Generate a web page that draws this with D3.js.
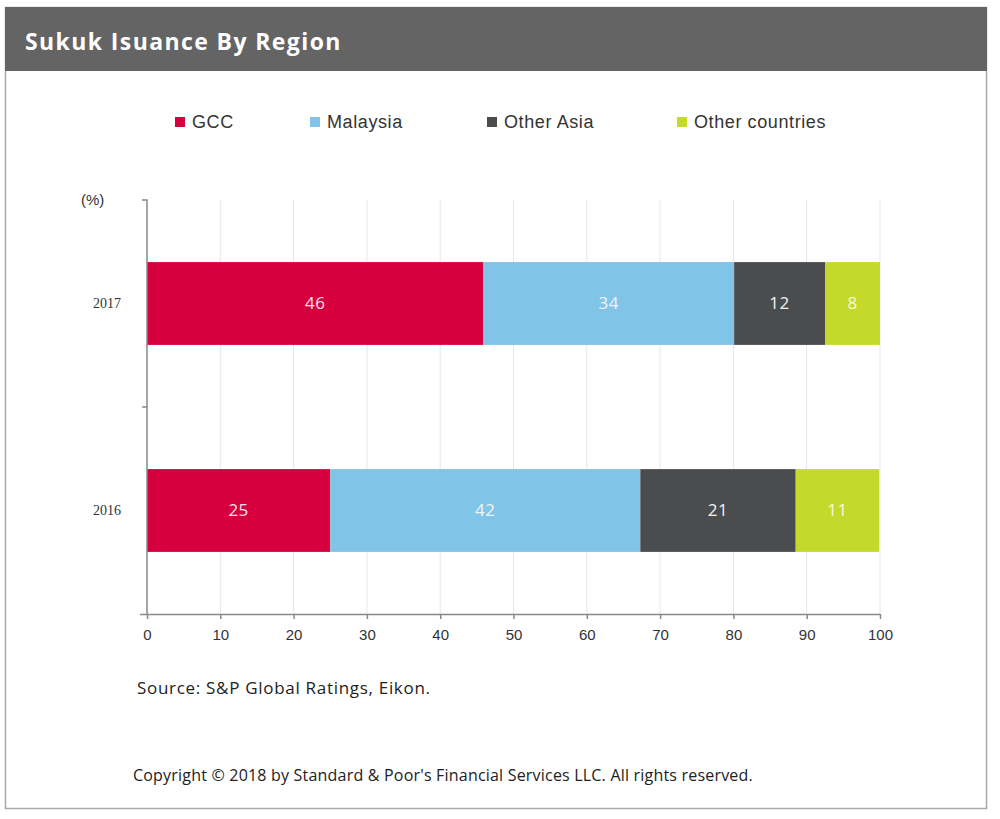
<!DOCTYPE html>
<html>
<head>
<meta charset="utf-8">
<script src="https://cdn.jsdelivr.net/npm/d3@7/dist/d3.min.js"></script>
<style>
  html, body { margin: 0; padding: 0; background: #fff; }
  svg { display: block; }
</style>
</head>
<body>
<svg id="chart" width="1000" height="819"></svg>
<script>
// ---- Data ----
const years = ["2017", "2016"];
const seriesNames = ["GCC", "Malaysia", "Other Asia", "Other countries"];
const gcc = [45.9, 25.0];
const malaysia = [34.2, 42.3];
const otherAsia = [12.4, 21.2];
const otherCountries = [7.5, 11.4];
const xTicks = [0, 10, 20, 30, 40, 50, 60, 70, 80, 90, 100];
const colors = ["#d7003f", "#80c4e7", "#4b4c4e", "#c5d92d"];
const labelColors = ["#f4e3ea", "#eef6fb", "#f2f2f2", "#f7f9d8"];

const seriesValues = [gcc, malaysia, otherAsia, otherCountries];
const rows = years.map((y, i) => {
  const r = { year: y };
  seriesNames.forEach((s, k) => r[s] = seriesValues[k][i]);
  return r;
});

const svg = d3.select("#chart");

// Outer frame
svg.append("rect").attr("x", 5.5).attr("y", 7.5).attr("width", 981).attr("height", 801)
  .attr("fill", "#fff").attr("stroke", "#a9a9a9").attr("stroke-width", 1.5);
// Title bar
svg.append("rect").attr("x", 5).attr("y", 7).attr("width", 982).attr("height", 64).attr("fill", "#646464");
svg.append("text").attr("x", 25).attr("y", 50)
  .attr("font-family", "'Open Sans', 'DejaVu Sans', sans-serif").attr("font-weight", 700)
  .attr("font-size", 23).attr("letter-spacing", 1.4).attr("fill", "#fff").text("Sukuk Isuance By Region");

// Scales
const x = d3.scaleLinear().domain([0, 100]).range([147, 880]);
const y = d3.scaleBand().domain(years).range([200, 614]).paddingInner(0.6).paddingOuter(0.3);

// Grid lines
svg.append("g").selectAll("line").data(xTicks.filter(d => d > 0)).join("line")
  .attr("x1", d => x(d)).attr("x2", d => x(d)).attr("y1", 200).attr("y2", 614)
  .attr("stroke", "#e6e6e6").attr("stroke-width", 1);

// Stack
const stack = d3.stack().keys(seriesNames)(rows);
const groups = svg.append("g").selectAll("g").data(stack).join("g")
  .attr("fill", (d, i) => colors[i]);
groups.selectAll("rect").data(d => d).join("rect")
  .attr("x", d => x(d[0])).attr("width", d => x(d[1]) - x(d[0]))
  .attr("y", d => y(d.data.year)).attr("height", y.bandwidth());
svg.append("g").selectAll("g").data(stack).join("g")
  .each(function(s, i) {
    d3.select(this).selectAll("text").data(s).join("text")
      .attr("x", d => (x(d[0]) + x(d[1])) / 2)
      .attr("y", d => y(d.data.year) + y.bandwidth() / 2)
      .attr("dy", "0.35em").attr("text-anchor", "middle")
      .attr("font-family", "'Open Sans', sans-serif").attr("font-size", 17)
      .attr("letter-spacing", 0.5)
      .attr("fill", labelColors[i])
      .text(d => Math.round(d[1] - d[0]));
  });

// X axis
const xAxis = d3.axisBottom(x).tickValues(xTicks).tickSize(5).tickSizeOuter(0).tickPadding(10);
const gx = svg.append("g").attr("transform", "translate(0,614)").call(xAxis);
gx.select(".domain").attr("stroke", "#888").attr("stroke-width", 1.5).attr("d", "M140,0.5H880");
gx.selectAll(".tick line").attr("stroke", "#888").attr("stroke-width", 1.5);
gx.selectAll(".tick text").attr("font-family", "'Liberation Sans', sans-serif").attr("font-size", 15).attr("fill", "#333");

// Y axis
const yAxis = d3.axisLeft(y).tickSize(0).tickPadding(26);
const gy = svg.append("g").attr("transform", "translate(147,0)").call(yAxis);
gy.select(".domain").attr("stroke", "#888").attr("stroke-width", 1.5).attr("d", "M-5,200H0V614");
gy.selectAll(".tick text").attr("font-family", "'Liberation Serif', serif").attr("font-size", 14).attr("fill", "#333");
// category boundary tick
svg.append("line").attr("x1", 142).attr("x2", 147).attr("y1", 407).attr("y2", 407)
  .attr("stroke", "#888").attr("stroke-width", 1.5);

svg.append("text").attr("x", 81).attr("y", 205)
  .attr("font-family", "'Liberation Sans', sans-serif").attr("font-size", 15).attr("fill", "#333").text("(%)");

// Legend
const legendX = [175, 310, 487, 677];
const lg = svg.append("g").selectAll("g").data(seriesNames).join("g")
  .attr("transform", (d, i) => `translate(${legendX[i]},117)`);
lg.append("rect").attr("width", 10).attr("height", 10).attr("fill", (d, i) => colors[i]);
lg.append("text").attr("x", 17).attr("y", 11)
  .attr("font-family", "'Liberation Sans', sans-serif").attr("font-size", 18)
  .attr("letter-spacing", 0.6).attr("fill", "#333")
  .text(d => d);

// Footer
svg.append("text").attr("x", 137).attr("y", 694)
  .attr("font-family", "'Open Sans', sans-serif").attr("font-size", 17).attr("letter-spacing", 0.7).attr("fill", "#222")
  .text("Source: S&P Global Ratings, Eikon.");
svg.append("text").attr("x", 133).attr("y", 781)
  .attr("font-family", "'Open Sans', sans-serif").attr("font-size", 16).attr("letter-spacing", 0.2).attr("fill", "#222")
  .text("Copyright © 2018 by Standard & Poor's Financial Services LLC. All rights reserved.");
</script>
</body>
</html>
